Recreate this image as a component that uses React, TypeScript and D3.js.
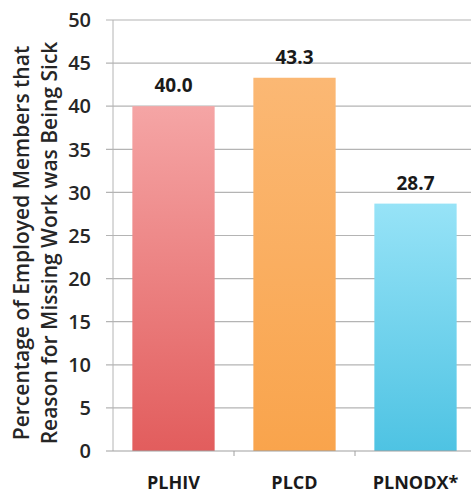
import React from "react";
import * as d3 from "d3";

const categories = ["PLHIV", "PLCD", "PLNODX*"];
const values = [40.0, 43.3, 28.7];
const valueLabels = ["40.0", "43.3", "28.7"];
const yTicks = [0, 5, 10, 15, 20, 25, 30, 35, 40, 45, 50];
const titleLines = [
  "Percentage of Employed Members that",
  "Reason for Missing Work was Being Sick",
];
const topColors = ["#f5a5a5", "#fbb874", "#97e3f7"];
const bottomColors = ["#e25d5d", "#f9a44c", "#4ec3e3"];

const W = 471;
const H = 496;
const FONT = "'Open Sans', Lato, sans-serif";

export default function App() {
  const x = d3.scaleBand<string>().domain(categories).range([113, 476]).paddingInner(0.32).paddingOuter(0.16);
  const y = d3.scaleLinear().domain([0, 50]).range([451, 20]);
  const x0 = 113;
  return (
    <svg
      width={W}
      height={H}
      style={{ position: "absolute", left: 0, top: 0, background: "#fff" }}
      fontFamily={FONT}
    >
      <defs>
        {categories.map((c, i) => (
          <linearGradient key={c} id={`g${i}`} x1="0" y1="0" x2="0" y2="1">
            <stop offset="0%" stopColor={topColors[i]} />
            <stop offset="100%" stopColor={bottomColors[i]} />
          </linearGradient>
        ))}
      </defs>
      {yTicks.map((t) => (
        <g key={t}>
          {t > 0 && (
            <line x1={x0 - 7} x2={W} y1={y(t)} y2={y(t)} stroke="#b4b4b4" strokeWidth={1.2} />
          )}
          <text
            x={91}
            y={y(t)}
            dy="0.36em"
            textAnchor="end"
            fontSize={20}
            fontWeight={600}
            fill="#262626"
          >
            {t}
          </text>
        </g>
      ))}
      <line x1={x0} x2={x0} y1={y(50)} y2={y(0)} stroke="#b4b4b4" strokeWidth={1} />
      {categories.map((c, i) => (
        <g key={c}>
          <rect
            x={x(c)!}
            y={y(values[i])}
            width={x.bandwidth()}
            height={y(0) - y(values[i])}
            fill={`url(#g${i})`}
          />
          <text
            x={x(c)! + x.bandwidth() / 2}
            y={y(values[i]) - 14}
            textAnchor="middle"
            fontSize={19}
            fontWeight={700}
            fill="#1a1a1a"
          >
            {valueLabels[i]}
          </text>
          <text
            x={x(c)! + x.bandwidth() / 2}
            y={489}
            textAnchor="middle"
            fontSize={18}
            fontWeight={700}
            fill="#1a1a1a"
          >
            {c}
          </text>
        </g>
      ))}
      <line x1={x0 - 7} x2={W} y1={y(0)} y2={y(0)} stroke="#a0a0a0" strokeWidth={1.2} />
      {categories.slice(1).map((c) => (
        <line
          key={c}
          x1={x(c)! - (x.step() - x.bandwidth()) / 2}
          x2={x(c)! - (x.step() - x.bandwidth()) / 2}
          y1={y(0)}
          y2={y(0) + 5}
          stroke="#a0a0a0"
        />
      ))}
      {titleLines.map((l, i) => (
        <text
          key={i}
          transform={`translate(${22 + i * 28},${243}) rotate(-90)`}
          textAnchor="middle"
          dy="0.35em"
          fontSize={21}
          fontWeight={600}
          fill="#262626"
        >
          {l}
        </text>
      ))}
    </svg>
  );
}
